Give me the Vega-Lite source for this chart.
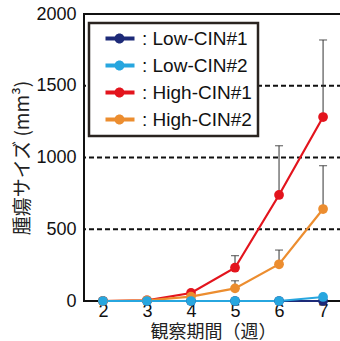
{
  "$schema": "https://vega.github.io/schema/vega-lite/v6.json",
  "autosize": "none",
  "padding": {"left": 84, "top": 14, "right": 0, "bottom": 40},
  "width": 258,
  "height": 287,
  "config": {
    "view": {"stroke": "#111", "strokeWidth": 2},
    "font": "Liberation Sans",
    "axis": {"labelFont": "Liberation Sans", "labelFontSize": 18, "labelColor": "#111", "titleFont": "Noto Sans CJK JP", "titleFontSize": 19, "titleFontWeight": "normal", "titleColor": "#222", "grid": false, "domain": false, "ticks": false},
    "legend": {
      "orient": "none", "legendX": 5, "legendY": 9, "title": null,
      "fillColor": "white", "strokeColor": "#2a2420", "strokeWidth": 2.5,
      "padding": 6, "rowPadding": 7,
      "symbolType": "M0.2,-0.4 H6 V0.4 H0.2 Z M4,0 A1,1 0 1,1 2,0 A1,1 0 1,1 4,0 Z",
      "symbolSize": 100, "symbolStrokeWidth": 0,
      "labelFont": "Liberation Sans", "labelFontSize": 19, "labelColor": "#111", "labelOffset": 28,
      "labelLimit": 300
    }
  },
  "datasets": {
    "series": [
      {"week": 2, "size": 0, "group": "Low-CIN#1"},
      {"week": 3, "size": 0, "group": "Low-CIN#1"},
      {"week": 4, "size": 0, "group": "Low-CIN#1"},
      {"week": 5, "size": 0, "group": "Low-CIN#1"},
      {"week": 6, "size": 0, "group": "Low-CIN#1"},
      {"week": 7, "size": 0, "group": "Low-CIN#1"},
      {"week": 2, "size": 0, "group": "High-CIN#1"},
      {"week": 3, "size": 5, "group": "High-CIN#1"},
      {"week": 4, "size": 56, "group": "High-CIN#1"},
      {"week": 5, "size": 232, "group": "High-CIN#1"},
      {"week": 6, "size": 739, "group": "High-CIN#1"},
      {"week": 7, "size": 1282, "group": "High-CIN#1"},
      {"week": 2, "size": 0, "group": "High-CIN#2"},
      {"week": 3, "size": 5, "group": "High-CIN#2"},
      {"week": 4, "size": 30, "group": "High-CIN#2"},
      {"week": 5, "size": 88, "group": "High-CIN#2"},
      {"week": 6, "size": 256, "group": "High-CIN#2"},
      {"week": 7, "size": 641, "group": "High-CIN#2"},
      {"week": 2, "size": 0, "group": "Low-CIN#2"},
      {"week": 3, "size": 0, "group": "Low-CIN#2"},
      {"week": 4, "size": 0, "group": "Low-CIN#2"},
      {"week": 5, "size": 0, "group": "Low-CIN#2"},
      {"week": 6, "size": 0, "group": "Low-CIN#2"},
      {"week": 7, "size": 28, "group": "Low-CIN#2"}
    ],
    "errors": [
      {"week": 5, "size": 232, "upper": 316},
      {"week": 6, "size": 739, "upper": 1082},
      {"week": 7, "size": 1282, "upper": 1819},
      {"week": 5, "size": 88, "upper": 141},
      {"week": 6, "size": 256, "upper": 355},
      {"week": 7, "size": 641, "upper": 943}
    ],
    "grid": [{"level": 500}, {"level": 1000}, {"level": 1500}]
  },
  "layer": [
    {
      "data": {"name": "grid"},
      "mark": {"type": "rule", "color": "#111", "strokeWidth": 2, "strokeDash": [5, 3]},
      "encoding": {
        "y": {"field": "level", "type": "quantitative", "scale": {"domain": [0, 2000]}}
      }
    },
    {
      "data": {"name": "errors"},
      "mark": {"type": "rule", "color": "#333", "strokeWidth": 1},
      "encoding": {
        "x": {"field": "week", "type": "quantitative"},
        "y": {"field": "size", "type": "quantitative"},
        "y2": {"field": "upper"}
      }
    },
    {
      "data": {"name": "errors"},
      "mark": {"type": "tick", "color": "#333", "orient": "horizontal", "size": 8, "thickness": 1.2},
      "encoding": {
        "x": {"field": "week", "type": "quantitative"},
        "y": {"field": "upper", "type": "quantitative"}
      }
    },
    {
      "data": {"name": "series"},
      "mark": {"type": "line", "strokeWidth": 2.2},
      "encoding": {
        "x": {"field": "week", "type": "quantitative"},
        "y": {"field": "size", "type": "quantitative"},
        "color": {"field": "group", "type": "nominal",
          "scale": {"domain": ["Low-CIN#1", "Low-CIN#2", "High-CIN#1", "High-CIN#2"], "range": ["#1d2a78", "#27a6df", "#e3141d", "#ec8d2f"]},
          "legend": {"labelExpr": "': ' + datum.label"}},
        "detail": {"field": "group"}
      }
    },
    {
      "data": {"name": "series"},
      "mark": {"type": "point", "filled": true, "opacity": 1, "size": 95},
      "encoding": {
        "x": {"field": "week", "type": "quantitative",
          "scale": {"domain": [1.57, 7.43], "nice": false, "zero": false},
          "axis": {"values": [2, 3, 4, 5, 6, 7], "format": "d", "labelPadding": 1, "title": "観察期間（週）", "titleFontSize": 18, "titlePadding": 3}},
        "y": {"field": "size", "type": "quantitative",
          "scale": {"domain": [0, 2000], "nice": false},
          "axis": {"values": [0, 500, 1000, 1500, 2000], "format": "d", "labelPadding": 8, "title": "腫瘍サイズ (mm³)", "titlePadding": 3}},
        "color": {"field": "group", "type": "nominal",
          "scale": {"domain": ["Low-CIN#1", "Low-CIN#2", "High-CIN#1", "High-CIN#2"], "range": ["#1d2a78", "#27a6df", "#e3141d", "#ec8d2f"]},
          "legend": {"labelExpr": "': ' + datum.label"}
        }
      }
    }
  ]
}
